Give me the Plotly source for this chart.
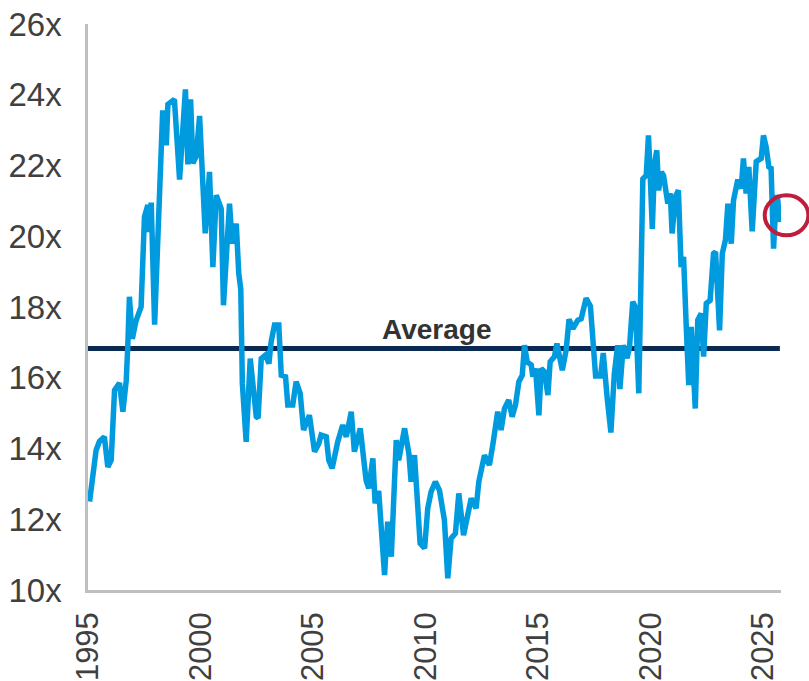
import plotly.graph_objects as go

# ---- data ----
years = [1995.07, 1995.21, 1995.36, 1995.51, 1995.73, 1995.88, 1996.03, 1996.18, 1996.40, 1996.55,
         1996.70, 1996.77, 1996.84, 1996.97, 1997.13, 1997.36, 1997.51, 1997.66, 1997.73, 1997.81,
         1997.96, 1998.32, 1998.48, 1998.55, 1998.70, 1998.84, 1999.07, 1999.33, 1999.44, 1999.56,
         1999.66, 1999.81, 1999.96, 2000.10, 2000.21, 2000.40, 2000.55, 2000.70, 2000.92, 2001.02,
         2001.29, 2001.41, 2001.59, 2001.70, 2001.79, 2001.86, 2002.03, 2002.21, 2002.48, 2002.56,
         2002.70, 2002.89, 2003.04, 2003.14, 2003.29, 2003.48, 2003.59, 2003.78, 2003.88, 2004.10,
         2004.25, 2004.43, 2004.58, 2004.84, 2005.07, 2005.26, 2005.36, 2005.59, 2005.70, 2005.85,
         2006.10, 2006.32, 2006.48, 2006.70, 2006.84, 2007.10, 2007.21, 2007.36, 2007.48, 2007.66,
         2007.76, 2007.92, 2008.18, 2008.32, 2008.48, 2008.70, 2008.81, 2009.07, 2009.26, 2009.36,
         2009.51, 2009.76, 2009.96, 2010.10, 2010.25, 2010.44, 2010.62, 2010.84, 2010.99, 2011.14,
         2011.33, 2011.48, 2011.69, 2011.88, 2012.03, 2012.25, 2012.37, 2012.62, 2012.84, 2012.99,
         2013.21, 2013.36, 2013.51, 2013.70, 2013.85, 2014.00, 2014.15, 2014.30, 2014.40, 2014.52,
         2014.70, 2014.77, 2014.89, 2015.04, 2015.14, 2015.29, 2015.44, 2015.54, 2015.73, 2015.84,
         2015.96, 2016.08, 2016.25, 2016.38, 2016.55, 2016.77, 2016.92, 2017.14, 2017.33, 2017.56,
         2017.78, 2017.90, 2018.07, 2018.24, 2018.39, 2018.54, 2018.64, 2018.79, 2018.96, 2019.07,
         2019.21, 2019.33, 2019.48, 2019.59, 2019.66, 2019.81, 2019.91, 2019.99, 2020.08, 2020.18,
         2020.28, 2020.36, 2020.48, 2020.58, 2020.67, 2020.77, 2020.88, 2020.96, 2021.11, 2021.24,
         2021.36, 2021.47, 2021.59, 2021.70, 2021.81, 2021.88, 2021.99, 2022.10, 2022.25, 2022.36,
         2022.48, 2022.65, 2022.80, 2022.89, 2023.07, 2023.19, 2023.33, 2023.44, 2023.59, 2023.69,
         2023.88, 2024.03, 2024.13, 2024.25, 2024.37, 2024.52, 2024.70, 2024.92, 2025.02, 2025.14,
         2025.26, 2025.36, 2025.47, 2025.59, 2025.66, 2025.73]

pe_ratio = [12.50, 13.20, 13.95, 14.20, 14.33, 13.48, 13.67, 15.65, 15.85, 15.04,
            15.93, 16.92, 18.29, 17.10, 17.60, 18.00, 20.55, 20.88, 20.12, 20.95,
            17.50, 23.56, 22.57, 23.73, 23.82, 23.87, 21.60, 24.15, 22.03, 23.87,
            22.06, 22.26, 23.40, 21.90, 20.08, 21.82, 19.13, 21.16, 20.78, 18.05,
            20.92, 19.79, 20.36, 18.95, 18.50, 15.84, 14.19, 16.54, 14.90, 14.86,
            16.54, 16.64, 16.40, 17.02, 17.49, 17.49, 16.07, 16.03, 15.23, 15.23,
            15.89, 15.56, 14.52, 14.94, 13.91, 14.14, 14.38, 14.33, 13.67, 13.44,
            14.19, 14.66, 14.33, 15.04, 13.91, 14.57, 13.95, 13.10, 12.87, 13.72,
            12.45, 12.80, 10.42, 11.93, 10.94, 14.24, 13.67, 14.57, 13.86, 13.06,
            13.81, 11.32, 11.18, 12.31, 12.78, 13.06, 12.82, 11.98, 10.33, 11.46,
            11.60, 12.73, 11.55, 12.26, 12.59, 12.31, 13.06, 13.81, 13.53, 14.10,
            15.04, 14.52, 15.13, 15.37, 14.90, 15.23, 15.89, 16.07, 16.92, 16.45,
            16.36, 16.03, 16.26, 14.94, 16.26, 16.17, 15.51, 16.45, 16.60, 16.97,
            16.60, 16.21, 16.78, 17.65, 17.39, 17.63, 17.67, 18.25, 18.02, 16.05,
            16.05, 16.70, 15.46, 14.45, 16.10, 16.92, 15.68, 16.92, 16.55, 16.88,
            18.15, 18.00, 15.56, 20.40, 21.62, 21.72, 22.85, 21.67, 20.21, 22.06,
            22.43, 21.30, 21.82, 21.72, 21.39, 20.92, 21.21, 20.08, 21.12, 21.30,
            19.13, 19.42, 17.44, 15.79, 17.44, 16.31, 15.13, 17.63, 17.82, 16.60,
            18.10, 18.19, 19.51, 19.56, 17.34, 19.51, 19.89, 20.92, 19.79, 21.02,
            21.60, 21.35, 22.20, 21.21, 21.96, 20.14, 22.11, 22.20, 22.85, 22.52,
            21.96, 21.92, 19.65, 21.16, 21.02, 20.40]

average_pe = 16.83
average_span = [1995.0, 2025.75]
average_label = "Average"
average_label_year = 2010.5

x_tick_vals = [1995, 2000, 2005, 2010, 2015, 2020, 2025]
x_tick_text = ["1995", "2000", "2005", "2010", "2015", "2020", "2025"]
y_tick_vals = [10, 12, 14, 16, 18, 20, 22, 24, 26]
y_tick_text = ["10x", "12x", "14x", "16x", "18x", "20x", "22x", "24x", "26x"]

FONT = "Arial, 'Liberation Sans', sans-serif"
TXT = "#404040"

fig = go.Figure()

fig.add_trace(go.Scatter(
    x=average_span, y=[average_pe] * len(average_span),
    mode="lines", line=dict(color="#0B2A52", width=5),
    hoverinfo="skip", showlegend=False,
))

fig.add_trace(go.Scatter(
    x=years, y=pe_ratio, mode="lines",
    line=dict(color="#009BDE", width=5.5),
    showlegend=False,
))

fig.add_annotation(
    x=average_label_year, y=average_pe, xref="x", yref="y",
    text="<b>" + average_label + "</b>", showarrow=False,
    yanchor="bottom", yshift=1,
    font=dict(family=FONT, size=28, color="#333333"),
)

# red highlight circle at the latest reading
fig.add_shape(
    type="circle", xref="paper", yref="paper",
    x0=0.9765, x1=1.0395, y0=0.6267, y1=0.6973,
    line=dict(color="#BE1E3C", width=4), fillcolor="rgba(0,0,0,0)",
    layer="above",
)

fig.update_layout(
    width=809, height=681,
    margin=dict(l=88, r=28, t=24, b=91),
    paper_bgcolor="white", plot_bgcolor="white",
    showlegend=False,
    font=dict(family=FONT, color=TXT),
)

fig.update_xaxes(
    range=[1995.0, 2025.8], automargin=False,
    tickmode="array", tickvals=x_tick_vals, ticktext=x_tick_text,
    tickangle=-90, tickfont=dict(family=FONT, size=31, color=TXT),
    showgrid=False, zeroline=False,
    showline=True, linecolor="#BFBFBF", linewidth=2.5,
    ticks="", ticklabelstandoff=7, ticklabeloverflow="allow",
)

fig.update_yaxes(
    range=[10, 26], automargin=False,
    tickmode="array", tickvals=y_tick_vals, ticktext=y_tick_text,
    tickfont=dict(family=FONT, size=33, color=TXT),
    showgrid=False, zeroline=False,
    showline=True, linecolor="#BFBFBF", linewidth=2.5,
    ticks="", ticklabelstandoff=17, ticklabeloverflow="allow",
)

fig.write_html(
    "out.html",
    config={"displayModeBar": False},
    post_script="document.body.style.margin='0';document.body.style.overflow='hidden';",
)
